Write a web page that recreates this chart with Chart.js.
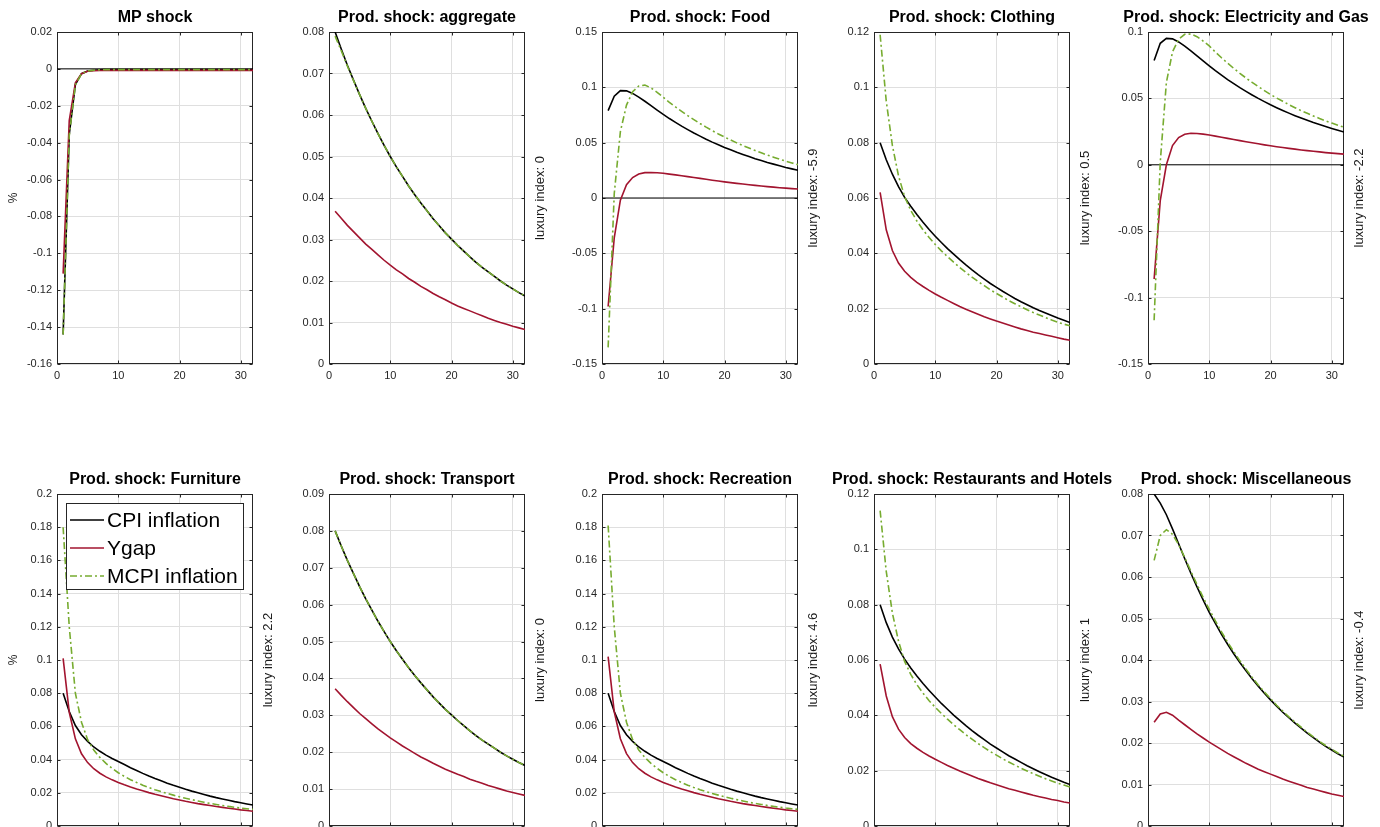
<!DOCTYPE html>
<html>
<head>
<meta charset="utf-8">
<title>Impulse responses</title>
<script src="https://cdn.jsdelivr.net/npm/chart.js@4.4.1/dist/chart.umd.min.js"></script>
<style>
  html, body { margin: 0; padding: 0; background: #fff; }
  body { width: 1380px; height: 827px; position: relative; overflow: hidden; }
  canvas { position: absolute; }
</style>
</head>
<body>
<script>
// Horizon (quarters) and axis ticks
const horizon = [1, 2, 3, 4, 5, 6, 7, 8, 9, 10, 11, 12, 13, 14, 15, 16,
                 17, 18, 19, 20, 21, 22, 23, 24, 25, 26, 27, 28, 29, 30, 31, 32];
const xTicks = [0, 10, 20, 30];
const seriesNames = ['CPI inflation', 'Ygap', 'MCPI inflation'];

const panelTitles = ['MP shock', 'Prod. shock: aggregate', 'Prod. shock: Food', 'Prod. shock: Clothing',
  'Prod. shock: Electricity and Gas', 'Prod. shock: Furniture', 'Prod. shock: Transport',
  'Prod. shock: Recreation', 'Prod. shock: Restaurants and Hotels', 'Prod. shock: Miscellaneous'];
const luxuryIndex = [null, '0', '-5.9', '0.5', '-2.2', '2.2', '0', '4.6', '1', '-0.4'];
const yMin = [-0.16, 0, -0.15, 0, -0.15, 0, 0, 0, 0, 0];
const yMax = [0.02, 0.08, 0.15, 0.12, 0.1, 0.2, 0.09, 0.2, 0.12, 0.08];
const yStep = [0.02, 0.01, 0.05, 0.02, 0.05, 0.02, 0.01, 0.02, 0.02, 0.01];

// MP shock
const mpCpi = [-0.1440, -0.0355, -0.0085, -0.0026, -0.0011, -0.0007, -0.0005, -0.0004, -0.0004, -0.0004, -0.0004,
  -0.0004, -0.0004, -0.0004, -0.0004, -0.0004, -0.0004, -0.0004, -0.0004, -0.0004, -0.0004, -0.0004, -0.0004,
  -0.0004, -0.0004, -0.0004, -0.0004, -0.0004, -0.0004, -0.0004, -0.0004, -0.0004];
const mpYgap = [-0.1110, -0.0280, -0.0075, -0.0026, -0.0013, -0.0010, -0.0009, -0.0009, -0.0008, -0.0008, -0.0008,
  -0.0008, -0.0008, -0.0008, -0.0008, -0.0008, -0.0008, -0.0008, -0.0008, -0.0008, -0.0008, -0.0008, -0.0008,
  -0.0008, -0.0008, -0.0008, -0.0008, -0.0008, -0.0008, -0.0008, -0.0008, -0.0008];
const mpMcpi = [-0.1440, -0.0360, -0.0087, -0.0026, -0.0011, -0.0007, -0.0005, -0.0004, -0.0004, -0.0004, -0.0004,
  -0.0004, -0.0004, -0.0004, -0.0004, -0.0004, -0.0004, -0.0004, -0.0004, -0.0004, -0.0004, -0.0004, -0.0004,
  -0.0004, -0.0004, -0.0004, -0.0004, -0.0004, -0.0004, -0.0004, -0.0004, -0.0004];

// Aggregate productivity
const aggCpi = [0.0800, 0.0759, 0.0720, 0.0684, 0.0649, 0.0616, 0.0585, 0.0555, 0.0527, 0.0500, 0.0475, 0.0452,
  0.0429, 0.0408, 0.0388, 0.0369, 0.0350, 0.0333, 0.0316, 0.0301, 0.0286, 0.0272, 0.0258, 0.0245, 0.0233,
  0.0222, 0.0211, 0.0200, 0.0190, 0.0181, 0.0172, 0.0164];
const aggYgap = [0.0368, 0.0351, 0.0334, 0.0319, 0.0304, 0.0289, 0.0276, 0.0263, 0.0250, 0.0238, 0.0227, 0.0217,
  0.0206, 0.0197, 0.0187, 0.0179, 0.0170, 0.0162, 0.0155, 0.0147, 0.0140, 0.0134, 0.0128, 0.0122, 0.0116,
  0.0110, 0.0105, 0.0100, 0.0096, 0.0091, 0.0087, 0.0083];
const aggMcpi = [0.0790, 0.0755, 0.0718, 0.0683, 0.0649, 0.0616, 0.0585, 0.0555, 0.0527, 0.0500, 0.0475, 0.0452,
  0.0429, 0.0408, 0.0388, 0.0369, 0.0350, 0.0333, 0.0316, 0.0301, 0.0286, 0.0272, 0.0258, 0.0245, 0.0233,
  0.0222, 0.0211, 0.0200, 0.0190, 0.0181, 0.0172, 0.0164];

// Food
const foodCpi = [0.0790, 0.0920, 0.0970, 0.0968, 0.0945, 0.0912, 0.0874, 0.0834, 0.0794, 0.0755, 0.0718, 0.0683,
  0.0649, 0.0618, 0.0587, 0.0559, 0.0531, 0.0505, 0.0481, 0.0457, 0.0435, 0.0413, 0.0393, 0.0374, 0.0355,
  0.0338, 0.0321, 0.0306, 0.0291, 0.0276, 0.0263, 0.0250];
const foodYgap = [-0.0980, -0.0360, -0.0020, 0.0120, 0.0185, 0.0216, 0.0229, 0.0231, 0.0228, 0.0223, 0.0216, 0.0209,
  0.0201, 0.0193, 0.0185, 0.0177, 0.0169, 0.0161, 0.0153, 0.0146, 0.0139, 0.0132, 0.0126, 0.0120, 0.0114,
  0.0108, 0.0103, 0.0098, 0.0093, 0.0089, 0.0085, 0.0081];
const foodMcpi = [-0.1350, 0.0040, 0.0600, 0.0840, 0.0960, 0.1012, 0.1020, 0.0995, 0.0955, 0.0910, 0.0865, 0.0823,
  0.0783, 0.0744, 0.0708, 0.0673, 0.0640, 0.0609, 0.0579, 0.0551, 0.0524, 0.0498, 0.0474, 0.0451, 0.0429,
  0.0408, 0.0388, 0.0369, 0.0351, 0.0333, 0.0317, 0.0301];

// Clothing
const clothCpi = [0.0800, 0.0738, 0.0686, 0.0641, 0.0602, 0.0570, 0.0540, 0.0512, 0.0486, 0.0462, 0.0439, 0.0417,
  0.0397, 0.0377, 0.0358, 0.0340, 0.0323, 0.0307, 0.0291, 0.0277, 0.0263, 0.0250, 0.0237, 0.0225, 0.0214,
  0.0203, 0.0193, 0.0184, 0.0175, 0.0166, 0.0158, 0.0150];
const clothYgap = [0.0620, 0.0485, 0.0410, 0.0365, 0.0335, 0.0313, 0.0295, 0.0280, 0.0266, 0.0253, 0.0241, 0.0230,
  0.0219, 0.0208, 0.0198, 0.0189, 0.0180, 0.0171, 0.0163, 0.0155, 0.0148, 0.0141, 0.0134, 0.0127, 0.0121,
  0.0115, 0.0110, 0.0105, 0.0100, 0.0095, 0.0090, 0.0086];
const clothMcpi = [0.1190, 0.0950, 0.0790, 0.0680, 0.0605, 0.0555, 0.0517, 0.0485, 0.0457, 0.0432, 0.0409, 0.0388,
  0.0368, 0.0349, 0.0331, 0.0314, 0.0298, 0.0283, 0.0268, 0.0255, 0.0242, 0.0229, 0.0218, 0.0207, 0.0196,
  0.0186, 0.0177, 0.0168, 0.0159, 0.0151, 0.0144, 0.0138];

// Electricity and gas
const elecCpi = [0.0785, 0.0915, 0.0952, 0.0948, 0.0925, 0.0893, 0.0857, 0.0820, 0.0782, 0.0745, 0.0709, 0.0675,
  0.0642, 0.0611, 0.0581, 0.0553, 0.0526, 0.0500, 0.0476, 0.0452, 0.0430, 0.0409, 0.0389, 0.0370, 0.0352,
  0.0335, 0.0318, 0.0303, 0.0288, 0.0274, 0.0260, 0.0247];
const elecYgap = [-0.0860, -0.0270, 0.0000, 0.0145, 0.0205, 0.0230, 0.0237, 0.0236, 0.0231, 0.0224, 0.0216, 0.0208,
  0.0199, 0.0191, 0.0182, 0.0174, 0.0166, 0.0158, 0.0150, 0.0143, 0.0136, 0.0130, 0.0124, 0.0118, 0.0112,
  0.0107, 0.0102, 0.0097, 0.0092, 0.0088, 0.0084, 0.0080];
const elecMcpi = [-0.1170, 0.0020, 0.0620, 0.0850, 0.0945, 0.0983, 0.0985, 0.0965, 0.0932, 0.0895, 0.0849, 0.0806,
  0.0765, 0.0726, 0.0689, 0.0654, 0.0620, 0.0589, 0.0559, 0.0530, 0.0503, 0.0478, 0.0453, 0.0430, 0.0408,
  0.0388, 0.0368, 0.0349, 0.0331, 0.0314, 0.0298, 0.0283];

// Furniture
const furnCpi = [0.0800, 0.0690, 0.0605, 0.0550, 0.0510, 0.0476, 0.0450, 0.0427, 0.0407, 0.0389, 0.0370, 0.0351,
  0.0334, 0.0317, 0.0301, 0.0286, 0.0272, 0.0258, 0.0245, 0.0233, 0.0221, 0.0210, 0.0200, 0.0190, 0.0180,
  0.0171, 0.0163, 0.0155, 0.0147, 0.0140, 0.0133, 0.0126];
const furnYgap = [0.1010, 0.0685, 0.0525, 0.0435, 0.0382, 0.0345, 0.0318, 0.0296, 0.0278, 0.0262, 0.0248, 0.0235,
  0.0223, 0.0212, 0.0201, 0.0191, 0.0182, 0.0173, 0.0164, 0.0157, 0.0149, 0.0142, 0.0135, 0.0129, 0.0123,
  0.0117, 0.0112, 0.0107, 0.0102, 0.0097, 0.0093, 0.0089];
const furnMcpi = [0.1800, 0.1200, 0.0800, 0.0625, 0.0520, 0.0458, 0.0413, 0.0377, 0.0347, 0.0321, 0.0299, 0.0279,
  0.0262, 0.0246, 0.0232, 0.0219, 0.0207, 0.0196, 0.0186, 0.0176, 0.0167, 0.0159, 0.0151, 0.0143, 0.0136,
  0.0130, 0.0124, 0.0118, 0.0113, 0.0108, 0.0104, 0.0100];

// Transport
const transCpi = [0.0800, 0.0759, 0.0720, 0.0684, 0.0649, 0.0616, 0.0585, 0.0555, 0.0527, 0.0500, 0.0475, 0.0452,
  0.0429, 0.0408, 0.0388, 0.0369, 0.0350, 0.0333, 0.0316, 0.0301, 0.0286, 0.0272, 0.0258, 0.0245, 0.0233,
  0.0222, 0.0211, 0.0200, 0.0190, 0.0181, 0.0172, 0.0164];
const transYgap = [0.0372, 0.0354, 0.0337, 0.0321, 0.0305, 0.0291, 0.0277, 0.0263, 0.0251, 0.0239, 0.0228, 0.0217,
  0.0207, 0.0197, 0.0187, 0.0179, 0.0170, 0.0162, 0.0154, 0.0147, 0.0140, 0.0134, 0.0127, 0.0121, 0.0116,
  0.0110, 0.0105, 0.0100, 0.0095, 0.0091, 0.0087, 0.0083];
const transMcpi = [0.0800, 0.0759, 0.0720, 0.0684, 0.0649, 0.0616, 0.0585, 0.0555, 0.0527, 0.0500, 0.0475, 0.0452,
  0.0429, 0.0408, 0.0388, 0.0369, 0.0350, 0.0333, 0.0316, 0.0301, 0.0286, 0.0272, 0.0258, 0.0245, 0.0233,
  0.0222, 0.0211, 0.0200, 0.0190, 0.0181, 0.0172, 0.0164];

// Recreation
const recCpi = [0.0800, 0.0690, 0.0605, 0.0550, 0.0510, 0.0476, 0.0450, 0.0427, 0.0407, 0.0389, 0.0370, 0.0351,
  0.0334, 0.0317, 0.0301, 0.0286, 0.0272, 0.0258, 0.0245, 0.0233, 0.0221, 0.0210, 0.0200, 0.0190, 0.0180,
  0.0171, 0.0163, 0.0155, 0.0147, 0.0140, 0.0133, 0.0126];
const recYgap = [0.1020, 0.0688, 0.0526, 0.0436, 0.0382, 0.0345, 0.0318, 0.0296, 0.0278, 0.0262, 0.0248, 0.0235,
  0.0223, 0.0212, 0.0201, 0.0191, 0.0182, 0.0173, 0.0164, 0.0157, 0.0149, 0.0142, 0.0135, 0.0129, 0.0123,
  0.0117, 0.0112, 0.0107, 0.0102, 0.0097, 0.0093, 0.0089];
const recMcpi = [0.1810, 0.1200, 0.0800, 0.0625, 0.0520, 0.0458, 0.0413, 0.0377, 0.0347, 0.0321, 0.0299, 0.0279,
  0.0262, 0.0246, 0.0232, 0.0219, 0.0207, 0.0196, 0.0186, 0.0176, 0.0167, 0.0159, 0.0151, 0.0143, 0.0136,
  0.0130, 0.0124, 0.0118, 0.0113, 0.0108, 0.0104, 0.0100];

// Restaurants and hotels
const restCpi = [0.0800, 0.0735, 0.0683, 0.0640, 0.0603, 0.0571, 0.0542, 0.0515, 0.0490, 0.0466, 0.0443, 0.0422,
  0.0401, 0.0382, 0.0363, 0.0345, 0.0328, 0.0312, 0.0296, 0.0282, 0.0268, 0.0254, 0.0242, 0.0230, 0.0218,
  0.0207, 0.0196, 0.0186, 0.0176, 0.0167, 0.0158, 0.0150];
const restYgap = [0.0585, 0.0470, 0.0395, 0.0350, 0.0320, 0.0298, 0.0281, 0.0266, 0.0253, 0.0241, 0.0230, 0.0219,
  0.0209, 0.0199, 0.0190, 0.0181, 0.0172, 0.0164, 0.0156, 0.0149, 0.0142, 0.0135, 0.0129, 0.0123, 0.0117,
  0.0111, 0.0106, 0.0101, 0.0096, 0.0092, 0.0087, 0.0083];
const restMcpi = [0.1140, 0.0920, 0.0770, 0.0668, 0.0595, 0.0548, 0.0511, 0.0480, 0.0453, 0.0429, 0.0407, 0.0386,
  0.0366, 0.0348, 0.0330, 0.0314, 0.0298, 0.0283, 0.0269, 0.0256, 0.0243, 0.0231, 0.0220, 0.0209, 0.0199,
  0.0189, 0.0180, 0.0171, 0.0163, 0.0155, 0.0148, 0.0141];

// Miscellaneous
const miscCpi = [0.0800, 0.0778, 0.0750, 0.0716, 0.0680, 0.0644, 0.0609, 0.0576, 0.0545, 0.0515, 0.0488, 0.0462,
  0.0438, 0.0415, 0.0394, 0.0374, 0.0355, 0.0337, 0.0320, 0.0304, 0.0289, 0.0274, 0.0261, 0.0248, 0.0236,
  0.0224, 0.0213, 0.0202, 0.0192, 0.0183, 0.0174, 0.0166];
const miscYgap = [0.0250, 0.0270, 0.0274, 0.0267, 0.0255, 0.0244, 0.0233, 0.0222, 0.0212, 0.0202, 0.0193, 0.0184,
  0.0175, 0.0167, 0.0159, 0.0151, 0.0144, 0.0137, 0.0131, 0.0125, 0.0119, 0.0113, 0.0108, 0.0103, 0.0098,
  0.0093, 0.0089, 0.0085, 0.0081, 0.0077, 0.0074, 0.0071];
const miscMcpi = [0.0640, 0.0700, 0.0714, 0.0703, 0.0678, 0.0647, 0.0614, 0.0582, 0.0551, 0.0522, 0.0494, 0.0468,
  0.0443, 0.0420, 0.0398, 0.0378, 0.0358, 0.0340, 0.0323, 0.0307, 0.0291, 0.0277, 0.0263, 0.0250, 0.0238,
  0.0226, 0.0215, 0.0204, 0.0194, 0.0185, 0.0176, 0.0168];

const panelSeries = [
  [mpCpi, mpYgap, mpMcpi], [aggCpi, aggYgap, aggMcpi], [foodCpi, foodYgap, foodMcpi],
  [clothCpi, clothYgap, clothMcpi], [elecCpi, elecYgap, elecMcpi], [furnCpi, furnYgap, furnMcpi],
  [transCpi, transYgap, transMcpi], [recCpi, recYgap, recMcpi], [restCpi, restYgap, restMcpi],
  [miscCpi, miscYgap, miscMcpi]
];

// Styling
const seriesColors = ['#000000', '#a2142f', '#77ac30'];
const seriesDash = [[], [], [7, 3, 2, 3]];
const gridColor = '#dfdfdf';
const axisColor = '#262626';
const fontFamily = '"Liberation Sans", Arial, Helvetica, sans-serif';

// Page layout of the 2 x 5 grid of axes
const plotLefts = [57, 329, 602, 874, 1148];
const rowTops = [32, 494];
const PLOT_W = 196, PLOT_H = 332;
const AXIS_W = 60, TITLE_H = 30, RIGHT_PAD = 52, XAXIS_H = 22;

function yTickValues(i) {
  const n = Math.round((yMax[i] - yMin[i]) / yStep[i]);
  const out = [];
  for (let k = 0; k <= n; k++) out.push(+(yMin[i] + k * yStep[i]).toFixed(4));
  return out;
}

// Box, inward ticks, titles, side labels and the legend
const panelDecor = {
  id: 'panelDecor',
  beforeDatasetsDraw(chart) {
    const { ctx, chartArea: a, scales } = chart;
    const l = Math.round(a.left) + 0.5, t = Math.round(a.top) + 0.5;
    const r = Math.round(a.right) - 0.5, b = Math.round(a.bottom) - 0.5;
    ctx.save();
    ctx.strokeStyle = axisColor;
    ctx.lineWidth = 1;
    ctx.strokeRect(l, t, r - l, b - t);
    ctx.beginPath();
    scales.x.ticks.forEach(tk => {
      const px = Math.round(scales.x.getPixelForValue(tk.value)) + 0.5;
      ctx.moveTo(px, b); ctx.lineTo(px, b - 3);
      ctx.moveTo(px, t); ctx.lineTo(px, t + 3);
    });
    scales.y.ticks.forEach(tk => {
      const py = Math.round(scales.y.getPixelForValue(tk.value)) + 0.5;
      ctx.moveTo(l, py); ctx.lineTo(l + 3, py);
      ctx.moveTo(r, py); ctx.lineTo(r - 3, py);
    });
    ctx.stroke();
    ctx.restore();
  },
  afterDraw(chart, args, opts) {
    const { ctx, chartArea: a } = chart;
    const cx = (a.left + a.right) / 2, cy = (a.top + a.bottom) / 2;
    ctx.save();
    ctx.fillStyle = '#000';
    ctx.textAlign = 'center';
    ctx.textBaseline = 'middle';
    ctx.font = 'bold 16px ' + fontFamily;
    ctx.fillText(opts.title, cx, a.top - 14);

    if (opts.sideLabel) {
      ctx.save();
      ctx.translate(a.right + 15, cy);
      ctx.rotate(-Math.PI / 2);
      ctx.font = '13px ' + fontFamily;
      ctx.fillStyle = '#1a1a1a';
      ctx.fillText(opts.sideLabel, 0, 0);
      ctx.restore();
    }
    if (opts.yLabel) {
      ctx.save();
      ctx.translate(a.left - 43, cy);
      ctx.rotate(-Math.PI / 2);
      ctx.font = '12px ' + fontFamily;
      ctx.fillStyle = axisColor;
      ctx.fillText(opts.yLabel, 0, 0);
      ctx.restore();
    }
    if (opts.legend) {
      const bx = Math.round(a.left) + 9, by = Math.round(a.top) + 9, bw = 177, bh = 86;
      ctx.fillStyle = '#fff';
      ctx.fillRect(bx, by, bw, bh);
      ctx.strokeStyle = axisColor;
      ctx.lineWidth = 1;
      ctx.strokeRect(bx + 0.5, by + 0.5, bw, bh);
      ctx.textAlign = 'left';
      ctx.font = '21px ' + fontFamily;
      seriesNames.forEach((name, k) => {
        const ds = chart.data.datasets.find(d => d.label === name);
        const y = by + 17 + k * 28;
        ctx.beginPath();
        ctx.strokeStyle = ds.borderColor;
        ctx.lineWidth = ds.borderWidth;
        ctx.setLineDash(ds.borderDash || []);
        ctx.moveTo(bx + 4, y);
        ctx.lineTo(bx + 38, y);
        ctx.stroke();
        ctx.setLineDash([]);
        ctx.fillStyle = '#000';
        ctx.fillText(name, bx + 41, y + 1);
      });
    }
    ctx.restore();
  }
};

panelTitles.forEach((title, i) => {
  const col = i % 5, row = Math.floor(i / 5);
  const canvas = document.createElement('canvas');
  const w = AXIS_W + PLOT_W + RIGHT_PAD, h = TITLE_H + PLOT_H + XAXIS_H;
  canvas.width = w; canvas.height = h;
  canvas.style.width = w + 'px'; canvas.style.height = h + 'px';
  canvas.style.left = (plotLefts[col] - AXIS_W) + 'px';
  canvas.style.top = (rowTops[row] - TITLE_H) + 'px';
  document.body.appendChild(canvas);

  // black, red, green: later series sit on top (lower order draws last)
  const datasets = panelSeries[i].map((vals, k) => ({
    label: seriesNames[k],
    data: horizon.map((hz, j) => ({ x: hz, y: vals[j] })),
    borderColor: seriesColors[k],
    borderWidth: 1.6,
    borderDash: seriesDash[k],
    pointRadius: 0,
    tension: 0,
    order: 3 - k
  }));
  if (yMin[i] < 0 && yMax[i] > 0) {
    datasets.push({
      label: 'zero',
      data: [{ x: 0, y: 0 }, { x: 32, y: 0 }],
      borderColor: '#000', borderWidth: 1, pointRadius: 0, order: 10
    });
  }

  const yTicks = yTickValues(i);
  new Chart(canvas.getContext('2d'), {
    type: 'line',
    data: { datasets },
    plugins: [panelDecor],
    options: {
      responsive: false,
      animation: false,
      events: [],
      layout: { padding: { top: TITLE_H, right: RIGHT_PAD, left: 0, bottom: 0 } },
      plugins: {
        legend: { display: false },
        tooltip: { enabled: false },
        panelDecor: {
          title: title,
          sideLabel: luxuryIndex[i] !== null ? 'luxury index: ' + luxuryIndex[i] : null,
          yLabel: col === 0 ? '%' : null,
          legend: i === 5
        }
      },
      scales: {
        x: {
          type: 'linear', min: 0, max: 32,
          afterBuildTicks: s => { s.ticks = xTicks.map(v => ({ value: v })); },
          afterFit: s => { s.height = XAXIS_H; },
          border: { display: false },
          grid: { color: gridColor, drawTicks: false },
          ticks: { padding: 5, color: axisColor, font: { family: fontFamily, size: 11 },
                   maxRotation: 0, autoSkip: false, callback: v => String(v) }
        },
        y: {
          type: 'linear', min: yMin[i], max: yMax[i],
          afterBuildTicks: s => { s.ticks = yTicks.map(v => ({ value: v })); },
          afterFit: s => { s.width = AXIS_W; },
          border: { display: false },
          grid: { color: gridColor, drawTicks: false },
          ticks: { padding: 5, color: axisColor, font: { family: fontFamily, size: 11 },
                   autoSkip: false, callback: v => String(+Number(v).toFixed(4)) }
        }
      }
    }
  });
});
</script>
</body>
</html>
